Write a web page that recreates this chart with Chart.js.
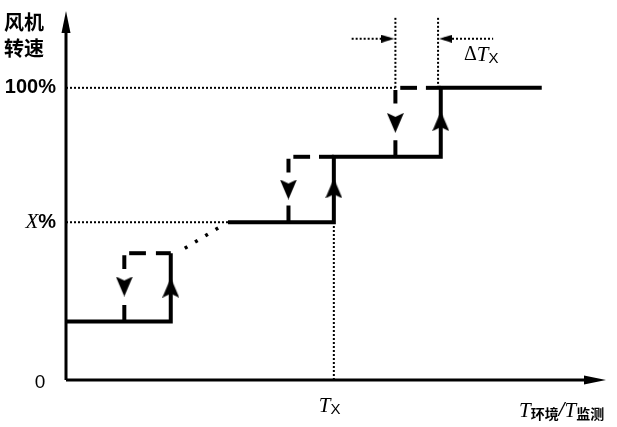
<!DOCTYPE html>
<html>
<head>
<meta charset="utf-8">
<script src="https://cdn.jsdelivr.net/npm/chart.js@4"></script>
<style>
  body { margin: 0; background: #fff; }
  canvas { display: block; }
</style>
</head>
<body>
<canvas id="fanChart" width="617" height="427"></canvas>
<script>
// fan speed (%) vs temperature (arbitrary units, 0..100 along the axis)
const loopLow = [20, 54, 76.4];       // speed before each step up
const loopTop = [43.4, 76.4, 100];    // speed after each step up (first loop stops short)
const riseTemps = [19.4, 49.6, 69.4]; // speed steps up here
const fallTemps = [10.8, 41.2, 61.0]; // speed steps down here
const Tx = 49.6;

// solid (rising) path
const solidPath1 = [[0, 20], [19.4, 20], [19.4, 43.4]];
const solidPath2 = [[30, 54], [49.6, 54], [49.6, 76.4], [69.4, 76.4], [69.4, 100], [88.1, 100]];
// dotted guides
const dotPaths = [
  [[0, 100], [61.0, 100]],
  [[0, 54], [30, 54]],
  [[49.6, 0], [49.6, 54]],
  [[61.0, 100], [61.0, 124.6]],
  [[68.9, 100], [68.9, 124.6]],
  [[52.9, 116.8], [60.0, 116.8]],
  [[70.0, 116.8], [79.1, 116.8]]
];
const gapPath = [[22.0, 45.1], [28.6, 52.5]];
// direction arrows on the loops: [x, y, rotation]
const arrows = [
  [10.8, 32.0, 180], [19.4, 31.6, 0],
  [41.2, 65.2, 180], [49.6, 65.6, 0],
  [61.0, 88.0, 180], [69.4, 88.6, 0]
];
const deltaArrows = [[59.6, 116.8, 90], [70.3, 116.8, 270]];

const toPts = p => p.map(([x, y]) => ({ x, y }));

function arrowImage(w, h, notch) {
  const c = document.createElement('canvas');
  c.width = w; c.height = h;
  const g = c.getContext('2d');
  g.fillStyle = '#000';
  g.beginPath();
  g.moveTo(w / 2, 0);
  g.lineTo(w, h);
  g.lineTo(w / 2, h - notch);
  g.lineTo(0, h);
  g.closePath();
  g.fill();
  return c;
}
const loopArrow = arrowImage(17, 20, 4);
const smallArrow = arrowImage(8, 13, 0);

const datasets = [];
const line = (p, extra) => Object.assign({
  data: toPts(p), borderColor: '#000', borderWidth: 4, pointRadius: 0, showLine: true
}, extra);

[solidPath1, solidPath2].forEach(p => datasets.push(line(p)));

// dashed (falling) return of each loop, broken around the arrow
loopTop.forEach((top, i) => {
  const r = riseTemps[i], f = fallTemps[i], low = loopLow[i];
  datasets.push(line([[r, top], [r - 2.75, top]]));
  datasets.push(line([[f + 4.0, top], [f + 0.9, top]]));
  datasets.push(line([[f, top - 0.7], [f, top - 5.4]]));
  datasets.push(line([[f, low + 5.7], [f, low]]));
});

dotPaths.forEach(p => datasets.push(line(p, { borderWidth: 2, borderDash: [2, 2] })));
datasets.push(line(gapPath, { borderWidth: 3.5, borderDash: [3, 9] }));

// arrow marks on top of the lines
datasets.push({
  data: arrows.map(([x, y]) => ({ x, y })),
  pointStyle: loopArrow,
  rotation: arrows.map(a => a[2]),
  pointRadius: 10, showLine: false, order: -1
});
datasets.push({
  data: deltaArrows.map(([x, y]) => ({ x, y })),
  pointStyle: smallArrow,
  rotation: deltaArrows.map(a => a[2]),
  pointRadius: 6, showLine: false, order: -1
});

function drawRuns(ctx, x, y, runs) {
  runs.forEach(r => {
    ctx.font = r.font;
    ctx.fillText(r.text, x, y + (r.dy || 0));
    x += ctx.measureText(r.text).width + (r.gap || 0);
  });
}

const axesAndLabels = {
  id: 'axesAndLabels',
  beforeDatasetsDraw(chart) {
    const { ctx, chartArea: a } = chart;
    ctx.save();
    ctx.strokeStyle = '#000';
    ctx.fillStyle = '#000';
    ctx.lineWidth = 3;
    ctx.beginPath();
    ctx.moveTo(a.left, a.bottom); ctx.lineTo(a.left, a.top + 14);
    ctx.moveTo(a.left, a.bottom); ctx.lineTo(a.right - 14, a.bottom);
    ctx.stroke();
    ctx.beginPath();
    ctx.moveTo(a.left, a.top); ctx.lineTo(a.left - 4.5, a.top + 22); ctx.lineTo(a.left + 4.5, a.top + 22);
    ctx.closePath(); ctx.fill();
    ctx.beginPath();
    ctx.moveTo(a.right, a.bottom); ctx.lineTo(a.right - 22, a.bottom - 4.5); ctx.lineTo(a.right - 22, a.bottom + 4.5);
    ctx.closePath(); ctx.fill();
    ctx.restore();
  },
  afterDraw(chart) {
    const { ctx, scales: { x, y } } = chart;
    ctx.save();
    ctx.fillStyle = '#000';
    ctx.textBaseline = 'middle';
    ctx.textAlign = 'left';
    ctx.font = 'bold 20px "Noto Sans CJK SC"';
    ctx.fillText('风机', 4, 22);
    ctx.fillText('转速', 4, 48);

    ctx.textAlign = 'right';
    ctx.font = 'bold 20px "Liberation Sans"';
    ctx.fillText('100%', 56, y.getPixelForValue(100));
    ctx.fillText('%', 56, y.getPixelForValue(54));
    const pw = ctx.measureText('%').width;
    ctx.font = 'italic 21px "Liberation Serif"';
    ctx.fillText('X', 56 - pw, y.getPixelForValue(54));
    ctx.font = '19px "Liberation Sans"';
    ctx.textAlign = 'center';
    ctx.fillText('0', 40, y.getPixelForValue(0) + 3);

    ctx.textAlign = 'left';
    const tx = x.getPixelForValue(Tx);
    drawRuns(ctx, tx - 15, 406, [
      { text: 'T', font: 'italic 21px "Liberation Serif"' },
      { text: 'X', font: '15px "Liberation Sans"', dy: 4 }
    ]);
    drawRuns(ctx, 519, 411, [
      { text: 'T', font: 'italic 21px "Liberation Serif"' },
      { text: '环境', font: 'bold 14px "Noto Sans CJK SC"', dy: 3 },
      { text: '/', font: 'bold italic 21px "Liberation Serif"' },
      { text: 'T', font: 'italic 21px "Liberation Serif"' },
      { text: '监测', font: 'bold 14px "Noto Sans CJK SC"', dy: 3 }
    ]);
    drawRuns(ctx, 464, 55, [
      { text: 'Δ', font: '20px "Liberation Serif"' },
      { text: 'T', font: 'italic 21px "Liberation Serif"' },
      { text: 'X', font: '15px "Liberation Sans"', dy: 4 }
    ]);
    ctx.restore();
  }
};

new Chart(document.getElementById('fanChart').getContext('2d'), {
  type: 'scatter',
  data: { datasets },
  options: {
    responsive: false,
    animation: false,
    devicePixelRatio: 1,
    layout: { padding: { left: 66, right: 5, top: 5, bottom: 47 } },
    scales: {
      x: { type: 'linear', min: 0, max: 100, display: false },
      y: { type: 'linear', min: 0, max: 126.3, display: false }
    },
    plugins: { legend: { display: false }, tooltip: { enabled: false } }
  },
  plugins: [axesAndLabels]
});
</script>
</body>
</html>
